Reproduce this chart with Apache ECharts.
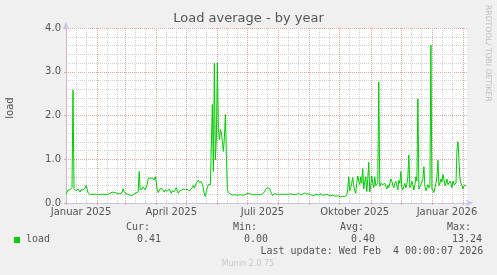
<!DOCTYPE html>
<html><head><meta charset="utf-8">
<script src="https://cdn.jsdelivr.net/npm/echarts@6/dist/echarts.min.js"></script>
<style>html,body{margin:0;padding:0;background:#f0f0f0}#c{width:497px;height:275px}</style>
</head><body><div id="c"></div>
<script>
// ---- data (daily load averages) ----
const jan25=[0.20,0.24,0.30,0.31,0.30,0.33,0.35,2.58,0.33,0.30,0.28,0.27,0.32,0.28,0.25,0.30,0.26,0.30,0.28,0.34,0.40,0.33,0.24,0.20,0.19,0.21,0.20,0.19,0.20,0.21,0.20];
const feb25=[0.20,0.19,0.21,0.20,0.18,0.20,0.19,0.20,0.21,0.19,0.18,0.20,0.21,0.22,0.23,0.25,0.27,0.24,0.22,0.23,0.22,0.22,0.22,0.21,0.21,0.24,0.33,0.26];
const mar25=[0.22,0.21,0.20,0.20,0.19,0.18,0.15,0.17,0.20,0.21,0.22,0.23,0.25,0.25,0.72,0.30,0.27,0.32,0.37,0.33,0.30,0.30,0.42,0.56,0.58,0.57,0.59,0.57,0.55,0.53,0.60];
const apr25=[0.48,0.30,0.24,0.22,0.33,0.36,0.32,0.28,0.25,0.30,0.29,0.27,0.29,0.32,0.28,0.22,0.28,0.30,0.26,0.30,0.35,0.28,0.22,0.27,0.30,0.29,0.31,0.32,0.30,0.31];
const may25=[0.35,0.31,0.29,0.28,0.27,0.32,0.36,0.40,0.34,0.30,0.46,0.50,0.52,0.47,0.50,0.49,0.43,0.34,0.20,0.15,0.27,0.35,0.42,0.42,0.42,0.45,2.25,0.72,3.20,0.99,1.49];
const jun25=[3.20,1.71,1.45,1.68,1.60,1.60,1.18,1.50,2.02,1.10,0.30,0.25,0.22,0.20,0.19,0.18,0.18,0.19,0.18,0.18,0.19,0.18,0.18,0.19,0.18,0.18,0.19,0.18,0.20,0.21];
const jul25=[0.22,0.22,0.22,0.21,0.20,0.19,0.18,0.19,0.20,0.19,0.18,0.19,0.20,0.19,0.20,0.21,0.22,0.25,0.31,0.34,0.35,0.34,0.33,0.27,0.22,0.17,0.19,0.22,0.22,0.20,0.18];
const aug25=[0.20,0.21,0.20,0.19,0.20,0.21,0.20,0.19,0.20,0.21,0.20,0.19,0.21,0.22,0.20,0.21,0.19,0.18,0.20,0.21,0.22,0.20,0.19,0.21,0.20,0.22,0.23,0.22,0.21,0.20,0.21];
const sep25=[0.20,0.19,0.18,0.17,0.16,0.18,0.19,0.20,0.19,0.18,0.20,0.21,0.19,0.18,0.17,0.18,0.19,0.20,0.19,0.18,0.17,0.16,0.17,0.18,0.17,0.16,0.17,0.16,0.15,0.16];
const oct25=[0.15,0.14,0.14,0.15,0.14,0.15,0.15,0.17,0.30,0.60,0.28,0.35,0.45,0.58,0.40,0.28,0.22,0.45,0.62,0.50,0.42,0.60,0.45,0.79,0.32,0.48,0.60,0.26,0.55,0.93,0.25];
const nov25=[0.40,0.62,0.45,0.35,0.60,0.40,0.38,0.45,2.77,0.38,0.45,0.48,0.42,0.40,0.45,0.38,0.32,0.40,0.35,0.45,0.55,0.50,0.40,0.35,0.45,0.50,0.40,0.30,0.52,0.45];
const dec25=[0.72,0.35,0.30,0.38,0.45,0.35,0.42,0.60,1.10,0.35,0.40,0.50,0.42,0.30,0.40,0.60,0.50,2.38,0.32,0.36,0.42,0.40,0.55,0.83,0.38,0.28,0.32,0.42,0.35,0.40,3.61];
const jan26=[0.32,0.28,0.24,0.35,0.45,0.60,0.98,0.40,0.45,0.55,0.48,0.65,0.55,0.40,0.45,0.55,0.42,0.38,0.50,0.45,0.35,0.50,0.42,0.38,0.45,1.20,1.40,1.38,0.55,0.45,0.40];
const feb26=[0.32,0.40,0.38,0.41];

const months=[[2025,0,jan25],[2025,1,feb25],[2025,2,mar25],[2025,3,apr25],[2025,4,may25],[2025,5,jun25],[2025,6,jul25],[2025,7,aug25],[2025,8,sep25],[2025,9,oct25],[2025,10,nov25],[2025,11,dec25],[2026,0,jan26],[2026,1,feb26]];
const xLabels=['Januar 2025','April 2025','Juli 2025','Oktober 2025','Januar 2026'];
const xLabelMonths=[[2025,0],[2025,3],[2025,6],[2025,9],[2026,0]];
const yTicks=[0,1,2,3,4];
const legendHeads=['Cur:','Min:','Avg:','Max:'];
const legendVals=['0.41','0.00','0.40','13.24'];
const seriesName='load';
const lastUpdate='Last update: Wed Feb  4 00:00:07 2026';

// ---- build ----
const START=Date.UTC(2025,0,1);
function dayIndex(y,m,d){return Math.round((Date.UTC(y,m,d)-START)/86400000);}
const data=[];
months.forEach(([y,m,arr])=>{const s=dayIndex(y,m,1);arr.forEach((v,i)=>data.push([s+i,v]));});
const X_MAX=dayIndex(2026,1,5);
const monthStarts=[],minorDays=[];
for(let y=2025;y<=2026;y++)for(let m=0;m<12;m++){const s=dayIndex(y,m,1);if(s>X_MAX)break;monthStarts.push(s);[11,21].forEach(d=>{const v=dayIndex(y,m,d);if(v<X_MAX)minorDays.push(v);});}
const labelDays=xLabelMonths.map(([y,m])=>dayIndex(y,m,1)+15);

const MAJ='#e9a3a3',MIN='#d2d2d2',AX='#c6c6ee',TXT='#555555';
const mono='10px "DejaVu Sans Mono"';
function txt(x,y,text,opt){opt=opt||{};return {type:'text',x:x,y:y,rotation:opt.rot||0,silent:true,
  style:{text:text,font:opt.font||mono,fill:opt.fill||TXT,align:opt.align||'left',textAlign:opt.align||'left',verticalAlign:'middle',textVerticalAlign:'middle'}};}
const hx=[126,233,340,447], vx=[137,244,351,452];
const elements=[
  txt(248.5,19,'Load average - by year',{font:'13px "DejaVu Sans"',align:'center'}),
  txt(10,108,'load',{font:'10px "DejaVu Sans"',align:'center',rot:Math.PI/2}),
  txt(488,5,'RRDTOOL/ TOBI OETIKER',{font:'7.7px "DejaVu Sans"',fill:'#c0c0c0',rot:-Math.PI/2}),
  {type:'rect',shape:{x:14,y:237,width:6,height:6},style:{fill:'#00cc00'},silent:true},
  txt(26,239.5,seriesName),
  txt(260.5,251.5,lastUpdate),
  txt(248,264,'Munin 2.0.75',{font:'8px "DejaVu Sans"',fill:'#c8c8c8',align:'center'})
];
legendHeads.forEach((h,i)=>elements.push(txt(hx[i],227.5,h)));
legendVals.forEach((v,i)=>elements.push(txt(vx[i],239.5,v)));

const chart=echarts.init(document.getElementById('c'),null,{renderer:'canvas'});
chart.setOption({
  backgroundColor:'#f0f0f0',
  animation:false,
  grid:{left:66,right:30,top:28,bottom:72,containLabel:false,show:true,backgroundColor:'#ffffff',borderWidth:0},
  xAxis:[{
    type:'value',min:0,max:X_MAX,position:'bottom',z:1,
    axisLine:{show:true,onZero:false,lineStyle:{color:AX},symbol:['none','arrow'],symbolSize:[5,7],symbolOffset:[0,6]},
    axisTick:{show:true,customValues:monthStarts,length:2,lineStyle:{color:MAJ}},
    axisLabel:{customValues:labelDays,formatter:v=>xLabels[labelDays.indexOf(v)]||'',color:TXT,fontFamily:'DejaVu Sans',fontSize:10,margin:4},
    splitLine:{show:true,lineStyle:{color:MAJ,type:[1,1],width:1}}
  },{
    type:'value',min:0,max:X_MAX,position:'top',z:0,
    axisLine:{show:false},axisTick:{show:false,customValues:minorDays},axisLabel:{show:false},
    splitLine:{show:true,lineStyle:{color:MIN,type:[1,1],width:1}}
  }],
  yAxis:{
    type:'value',min:yTicks[0],max:yTicks[yTicks.length-1],interval:1,
    axisLine:{show:true,lineStyle:{color:AX},symbol:['none','arrow'],symbolSize:[5,7],symbolOffset:[0,6]},
    axisTick:{show:true,length:2,lineStyle:{color:MAJ}},
    axisLabel:{formatter:v=>v.toFixed(1),color:TXT,fontFamily:'DejaVu Sans',fontSize:10,margin:5},
    splitLine:{show:true,lineStyle:{color:MAJ,type:[1,1],width:1}},
    minorTick:{show:false,splitNumber:5},
    minorSplitLine:{show:true,lineStyle:{color:MIN,type:[1,1],width:1}}
  },
  series:[{type:'line',name:seriesName,xAxisIndex:0,data:data,showSymbol:false,symbol:'none',
    lineStyle:{color:'#00cc00',width:1},itemStyle:{color:'#00cc00'},z:3}],
  graphic:{elements:elements}
});
</script></body></html>
